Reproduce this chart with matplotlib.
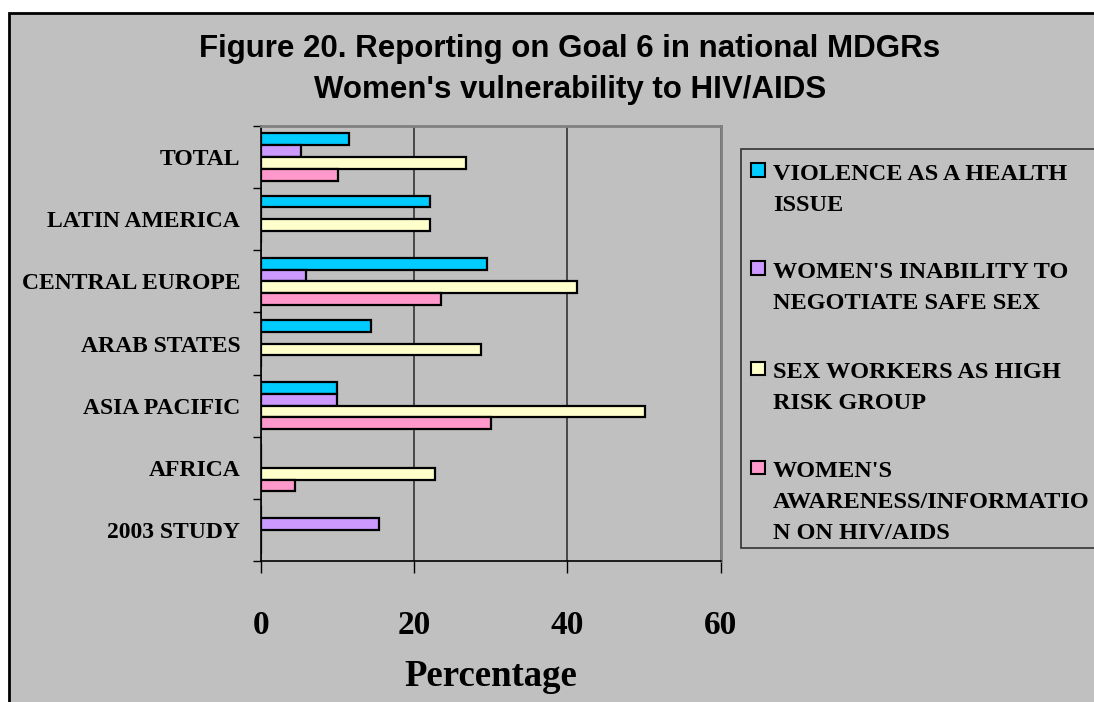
import numpy as np
import matplotlib.pyplot as plt
from matplotlib.patches import Rectangle

# data (percent)
regions = ["TOTAL", "LATIN AMERICA", "CENTRAL EUROPE", "ARAB STATES",
           "ASIA PACIFIC", "AFRICA", "2003 STUDY"]
violence = [11.5, 22.1, 29.5, 14.4, 9.9, 0, 0]
inability = [5.2, 0, 5.9, 0, 9.9, 0, 15.4]
sexwork = [26.8, 22.1, 41.3, 28.7, 50.1, 22.7, 0]
awareness = [10.1, 0, 23.5, 0, 30.0, 4.4, 0]
series = [violence, inability, sexwork, awareness]
names = [["VIOLENCE AS A HEALTH", "ISSUE"],
         ["WOMEN'S INABILITY TO", "NEGOTIATE SAFE SEX"],
         ["SEX WORKERS AS HIGH", "RISK GROUP"],
         ["WOMEN'S", "AWARENESS/INFORMATIO", "N ON HIV/AIDS"]]
colors = ["#00CCFF", "#CC99FF", "#FFFFCC", "#FF99CC"]
xticks = [0, 20, 40, 60]

W, H = 1094, 702
serif = "Liberation Serif"
sans = "Liberation Sans"


def px(x, y):
    # pixel position (from top-left) -> figure fraction
    return x / W, 1 - y / H


fig = plt.figure(figsize=(W / 100, H / 100), dpi=100)
fig.patch.set_facecolor("white")

# chart area frame
x0, y0 = px(8.5, 13)
fig.patches.append(Rectangle((x0, -0.05), 1.1, y0 + 0.05, transform=fig.transFigure,
                             facecolor="#C0C0C0", edgecolor="black", linewidth=2, zorder=-5))

ax = fig.add_axes([261 / W, 1 - 561 / H, (720.7 - 261) / W, (561 - 126) / H])
ax.set_facecolor("#C0C0C0")
ax.set_zorder(1)

h = 0.19
pos = np.arange(len(regions))
offsets = [-1.5 * h, -0.5 * h, 0.5 * h, 1.5 * h]
for vals, c, off in zip(series, colors, offsets):
    ax.barh(pos + off, vals, height=h, color=c, edgecolor="black", linewidth=1.6, zorder=3)

ax.set_xlim(0, 60)
ax.set_ylim(len(regions) - 0.5, -0.5)
ax.set_xticks(xticks)
ax.set_xticklabels([str(t) for t in xticks], fontfamily=serif, fontweight="bold", fontsize=24)
ax.tick_params(axis="x", direction="out", length=8.5, width=1, pad=27, color="black")
ax.set_yticks(pos)
ax.set_yticklabels(regions, fontfamily=serif, fontweight="bold", fontsize=17)
ax.tick_params(axis="y", which="major", length=0, pad=15)
ax.set_yticks(np.arange(-0.5, len(regions), 1), minor=True)
ax.tick_params(axis="y", which="minor", direction="out", length=6, width=1, color="black")
for lab in ax.get_yticklabels():
    lab.set_verticalalignment("center_baseline")

ax.grid(axis="x", color="#333333", linewidth=1.2, zorder=1)
ax.set_axisbelow(True)
for s in ["left", "bottom"]:
    ax.spines[s].set_color("black")
    ax.spines[s].set_linewidth(1.2)
for s in ["top", "right"]:
    ax.spines[s].set_color("#808080")
    ax.spines[s].set_linewidth(2)

ax.set_xlabel("Percentage", fontfamily=serif, fontweight="bold", fontsize=26.5)
ax.xaxis.label.set_va("center")
ax.xaxis.set_label_coords(0.5, (561 - 677) / (561 - 126))

# title
fig.text(*px(570, 57), "Figure 20. Reporting on Goal 6 in national MDGRs", ha="center",
         va="baseline", fontfamily=sans, fontweight="bold", fontsize=22.5)
fig.text(*px(570, 98), "Women's vulnerability to HIV/AIDS", ha="center",
         va="baseline", fontfamily=sans, fontweight="bold", fontsize=22.5)

# legend (Excel style, swatch next to first line)
lx, ly = px(741, 548)
fig.patches.append(Rectangle((lx, ly), 0.5, (548 - 149) / H, transform=fig.transFigure,
                             facecolor="#C0C0C0", edgecolor="#333333", linewidth=1.2, zorder=1))
base = [180, 278, 378, 477]
for lines, c, b in zip(names, colors, base):
    sx, sy = px(751, b - 3)
    fig.patches.append(Rectangle((sx, sy), 13.5 / W, 13.5 / H, transform=fig.transFigure,
                                 facecolor=c, edgecolor="black", linewidth=1.5, zorder=2))
    for i, line in enumerate(lines):
        fig.text(*px(773, b + 31 * i), line, ha="left", va="baseline", fontfamily=serif,
                 fontweight="bold", fontsize=17.5, zorder=3)

fig.savefig("out.png", dpi=100)
